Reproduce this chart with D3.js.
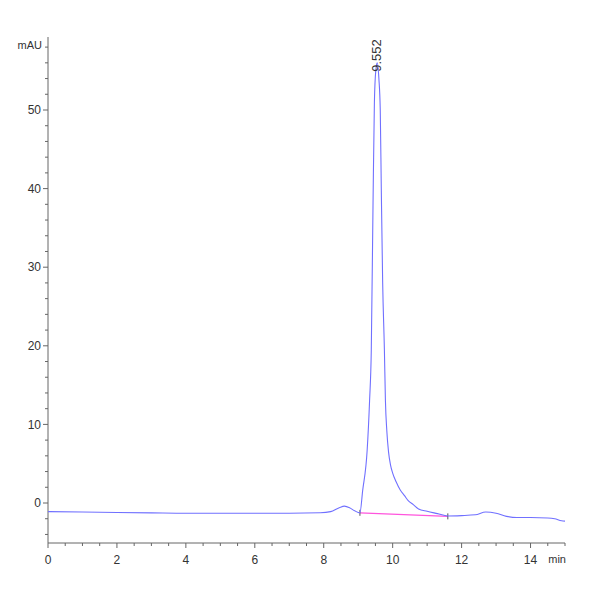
<!DOCTYPE html>
<html>
<head>
<meta charset="utf-8">
<script src="https://cdn.jsdelivr.net/npm/d3@7"></script>
<style>
body { margin: 0; background: #fff; }
text { font-family: "Liberation Sans Narrow", "Arial Narrow", "Liberation Sans", Arial, sans-serif; fill: #333; }
</style>
</head>
<body>
<svg id="chart" width="600" height="600"></svg>
<script>
// trace (time in min, signal in mAU)
var times = [0, 1, 2, 3, 4, 5, 6, 7, 7.9, 8.2, 8.45, 8.6, 8.75, 8.9, 9.05,
    9.13, 9.26, 9.33, 9.38, 9.43, 9.47, 9.51, 9.552, 9.6, 9.64, 9.67, 9.71, 9.76, 9.79, 9.83, 9.88,
    9.94, 10.0, 10.1, 10.22, 10.35, 10.45, 10.6, 10.75, 11.0, 11.3, 11.6, 12.0, 12.4, 12.7, 13.0, 13.3, 13.6, 14.0, 14.5, 14.7, 14.9, 15];
var signal = [-1.1, -1.15, -1.2, -1.25, -1.3, -1.3, -1.3, -1.3, -1.25, -1.1, -0.6, -0.4, -0.6, -1.0, -1.25,
    1.6, 6.7, 13, 19.5, 38, 51, 55, 56, 54, 50, 40, 28, 19.5, 13, 9.2, 6.5,
    4.8, 3.8, 2.7, 1.65, 0.9, 0.3, -0.2, -0.75, -1.05, -1.35, -1.65, -1.6, -1.5, -1.15, -1.3, -1.7, -1.85, -1.85, -1.9, -2.0, -2.25, -2.3];

// integration baseline under the main peak
var baseT = [9.05, 11.6];
var baseV = [-1.25, -1.7];

var peakTime = 9.552;
var peakValue = 56;
var peakLabel = '9.552';

var xTicks = [0, 2, 4, 6, 8, 10, 12, 14];
var yTicks = [0, 10, 20, 30, 40, 50];

var svg = d3.select('#chart');

var xScale = d3.scaleLinear()
    .domain([0, 15])
    .range([48, 565]);

var yScale = d3.scaleLinear()
    .domain([0, 50])
    .range([503, 110]);

var yBottom = 543, yTop = 37;

// axes lines
svg.append('line')
    .attr('x1', xScale(0)).attr('x2', xScale(15))
    .attr('y1', yBottom).attr('y2', yBottom)
    .attr('stroke', '#666').attr('stroke-width', 1);
svg.append('line')
    .attr('x1', xScale(0)).attr('x2', xScale(0))
    .attr('y1', yTop).attr('y2', yBottom)
    .attr('stroke', '#666').attr('stroke-width', 1);

// x ticks
var xMinor = d3.range(0, 15.01, 0.5);
svg.selectAll('.xminor')
    .data(xMinor)
    .enter()
    .append('line')
    .attr('x1', d => xScale(d)).attr('x2', d => xScale(d))
    .attr('y1', yBottom)
    .attr('y2', d => (d % 2 === 0) ? yBottom + 5 : yBottom + 3)
    .attr('stroke', '#666');

svg.selectAll('.xlabel')
    .data(xTicks)
    .enter()
    .append('text')
    .attr('x', d => xScale(d))
    .attr('y', 564)
    .attr('text-anchor', 'middle')
    .attr('font-size', 12)
    .text(d => d);

svg.append('text')
    .attr('x', 566)
    .attr('y', 563)
    .attr('text-anchor', 'end')
    .attr('font-size', 11)
    .text('min');

// y ticks
var yMinor = d3.range(-4, 59, 2);
svg.selectAll('.yminor')
    .data(yMinor)
    .enter()
    .append('line')
    .attr('x1', d => (d % 10 === 0) ? xScale(0) - 5 : xScale(0) - 3)
    .attr('x2', xScale(0))
    .attr('y1', d => yScale(d)).attr('y2', d => yScale(d))
    .attr('stroke', '#666');

svg.selectAll('.ylabel')
    .data(yTicks)
    .enter()
    .append('text')
    .attr('x', 41)
    .attr('y', d => yScale(d))
    .attr('dy', '0.35em')
    .attr('text-anchor', 'end')
    .attr('font-size', 12)
    .text(d => d);

svg.append('text')
    .attr('x', 42)
    .attr('y', 45)
    .attr('dy', '0.35em')
    .attr('text-anchor', 'end')
    .attr('font-size', 11)
    .text('mAU');

// baseline
svg.append('line')
    .attr('x1', xScale(baseT[0])).attr('x2', xScale(baseT[1]))
    .attr('y1', yScale(baseV[0])).attr('y2', yScale(baseV[1]))
    .attr('stroke', '#ff55dd').attr('stroke-width', 1.2);
baseT.forEach(function(t, i) {
    svg.append('line')
        .attr('x1', xScale(t)).attr('x2', xScale(t))
        .attr('y1', yScale(baseV[i]) - 3).attr('y2', yScale(baseV[i]) + 3)
        .attr('stroke', '#555');
});

// trace
var points = times.map((t, i) => [t, signal[i]]);
var line = d3.line()
    .x(d => xScale(d[0]))
    .y(d => yScale(d[1]))
    .curve(d3.curveMonotoneX);

svg.append('path')
    .datum(points)
    .attr('d', line)
    .attr('fill', 'none')
    .attr('stroke', '#7070ff')
    .attr('stroke-width', 1.1);

// peak label
svg.append('text')
    .attr('transform', 'translate(' + (xScale(peakTime) + 4) + ',' + (yScale(peakValue) + 9) + ') rotate(-90)')
    .attr('text-anchor', 'start')
    .attr('font-size', 13)
    .text(peakLabel);
</script>
</body>
</html>
